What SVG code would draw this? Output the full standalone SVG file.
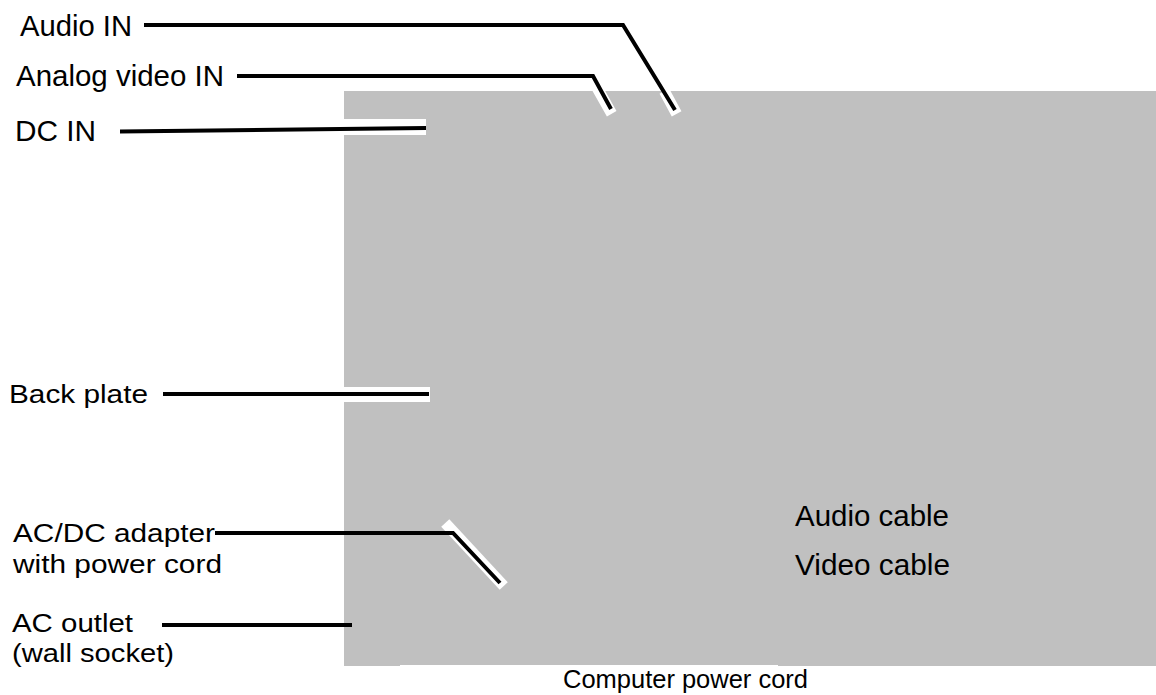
<svg xmlns="http://www.w3.org/2000/svg" width="1156" height="695" viewBox="0 0 1156 695">
<style>
.t{font-family:"Liberation Sans",Arial,sans-serif;font-size:30px;fill:#000}
.s{font-family:"Liberation Sans",Arial,sans-serif;font-size:26px;fill:#000}
.ln{fill:none;stroke:#000;stroke-width:4;stroke-linejoin:miter}
.halo{fill:none;stroke:#fff;stroke-width:11;stroke-linecap:square}
</style>
<rect id="back-panel" x="344" y="91" width="812" height="575" fill="#c0c0c0"/>
<rect x="400" y="665" width="378" height="1" fill="#fff"/>
<g id="connectors">
<line class="halo" x1="600" y1="93" x2="609" y2="109"/>
<line class="halo" x1="667" y1="96" x2="674" y2="109"/>
<rect x="344" y="119" width="82" height="16" fill="#fff"/>
<rect x="344" y="387" width="86" height="15" fill="#fff"/>
<line class="halo" x1="449" y1="527" x2="500" y2="582"/>
<polyline class="ln" points="144,25 623,25 675,110"/>
<polyline class="ln" points="237,76 593,76 611,109"/>
<polyline class="ln" points="120,131.5 426,128"/>
<polyline class="ln" points="163,394 429,394"/>
<polyline class="ln" points="215,533 453,533 500,583"/>
<polyline class="ln" points="162,625 352,625"/>
</g>
<g id="audio-in"><text class="t" x="20" y="36" textLength="112" lengthAdjust="spacingAndGlyphs">Audio IN</text></g>
<g id="analog-video-in"><text class="t" x="16" y="86" textLength="208" lengthAdjust="spacingAndGlyphs">Analog video IN</text></g>
<g id="dc-in"><text class="t" x="15" y="140.5" textLength="81" lengthAdjust="spacingAndGlyphs">DC IN</text></g>
<g id="back-plate"><text class="s" x="9" y="403" textLength="139" lengthAdjust="spacingAndGlyphs">Back plate</text></g>
<g id="ac-dc-adapter"><text class="s" x="13" y="541.5" textLength="202" lengthAdjust="spacingAndGlyphs">AC/DC adapter</text><text class="s" x="13" y="573" textLength="209" lengthAdjust="spacingAndGlyphs">with power cord</text></g>
<g id="ac-outlet"><text class="s" x="12" y="631.5" textLength="121" lengthAdjust="spacingAndGlyphs">AC outlet</text><text class="s" x="12" y="662" textLength="162" lengthAdjust="spacingAndGlyphs">(wall socket)</text></g>
<g id="audio-cable"><text class="t" x="795" y="525.5" textLength="154" lengthAdjust="spacingAndGlyphs">Audio cable</text></g>
<g id="video-cable"><text class="t" x="795" y="575" textLength="155" lengthAdjust="spacingAndGlyphs">Video cable</text></g>
<g id="computer-power-cord"><text class="s" x="563" y="688" textLength="245" lengthAdjust="spacingAndGlyphs">Computer power cord</text></g>
</svg>
